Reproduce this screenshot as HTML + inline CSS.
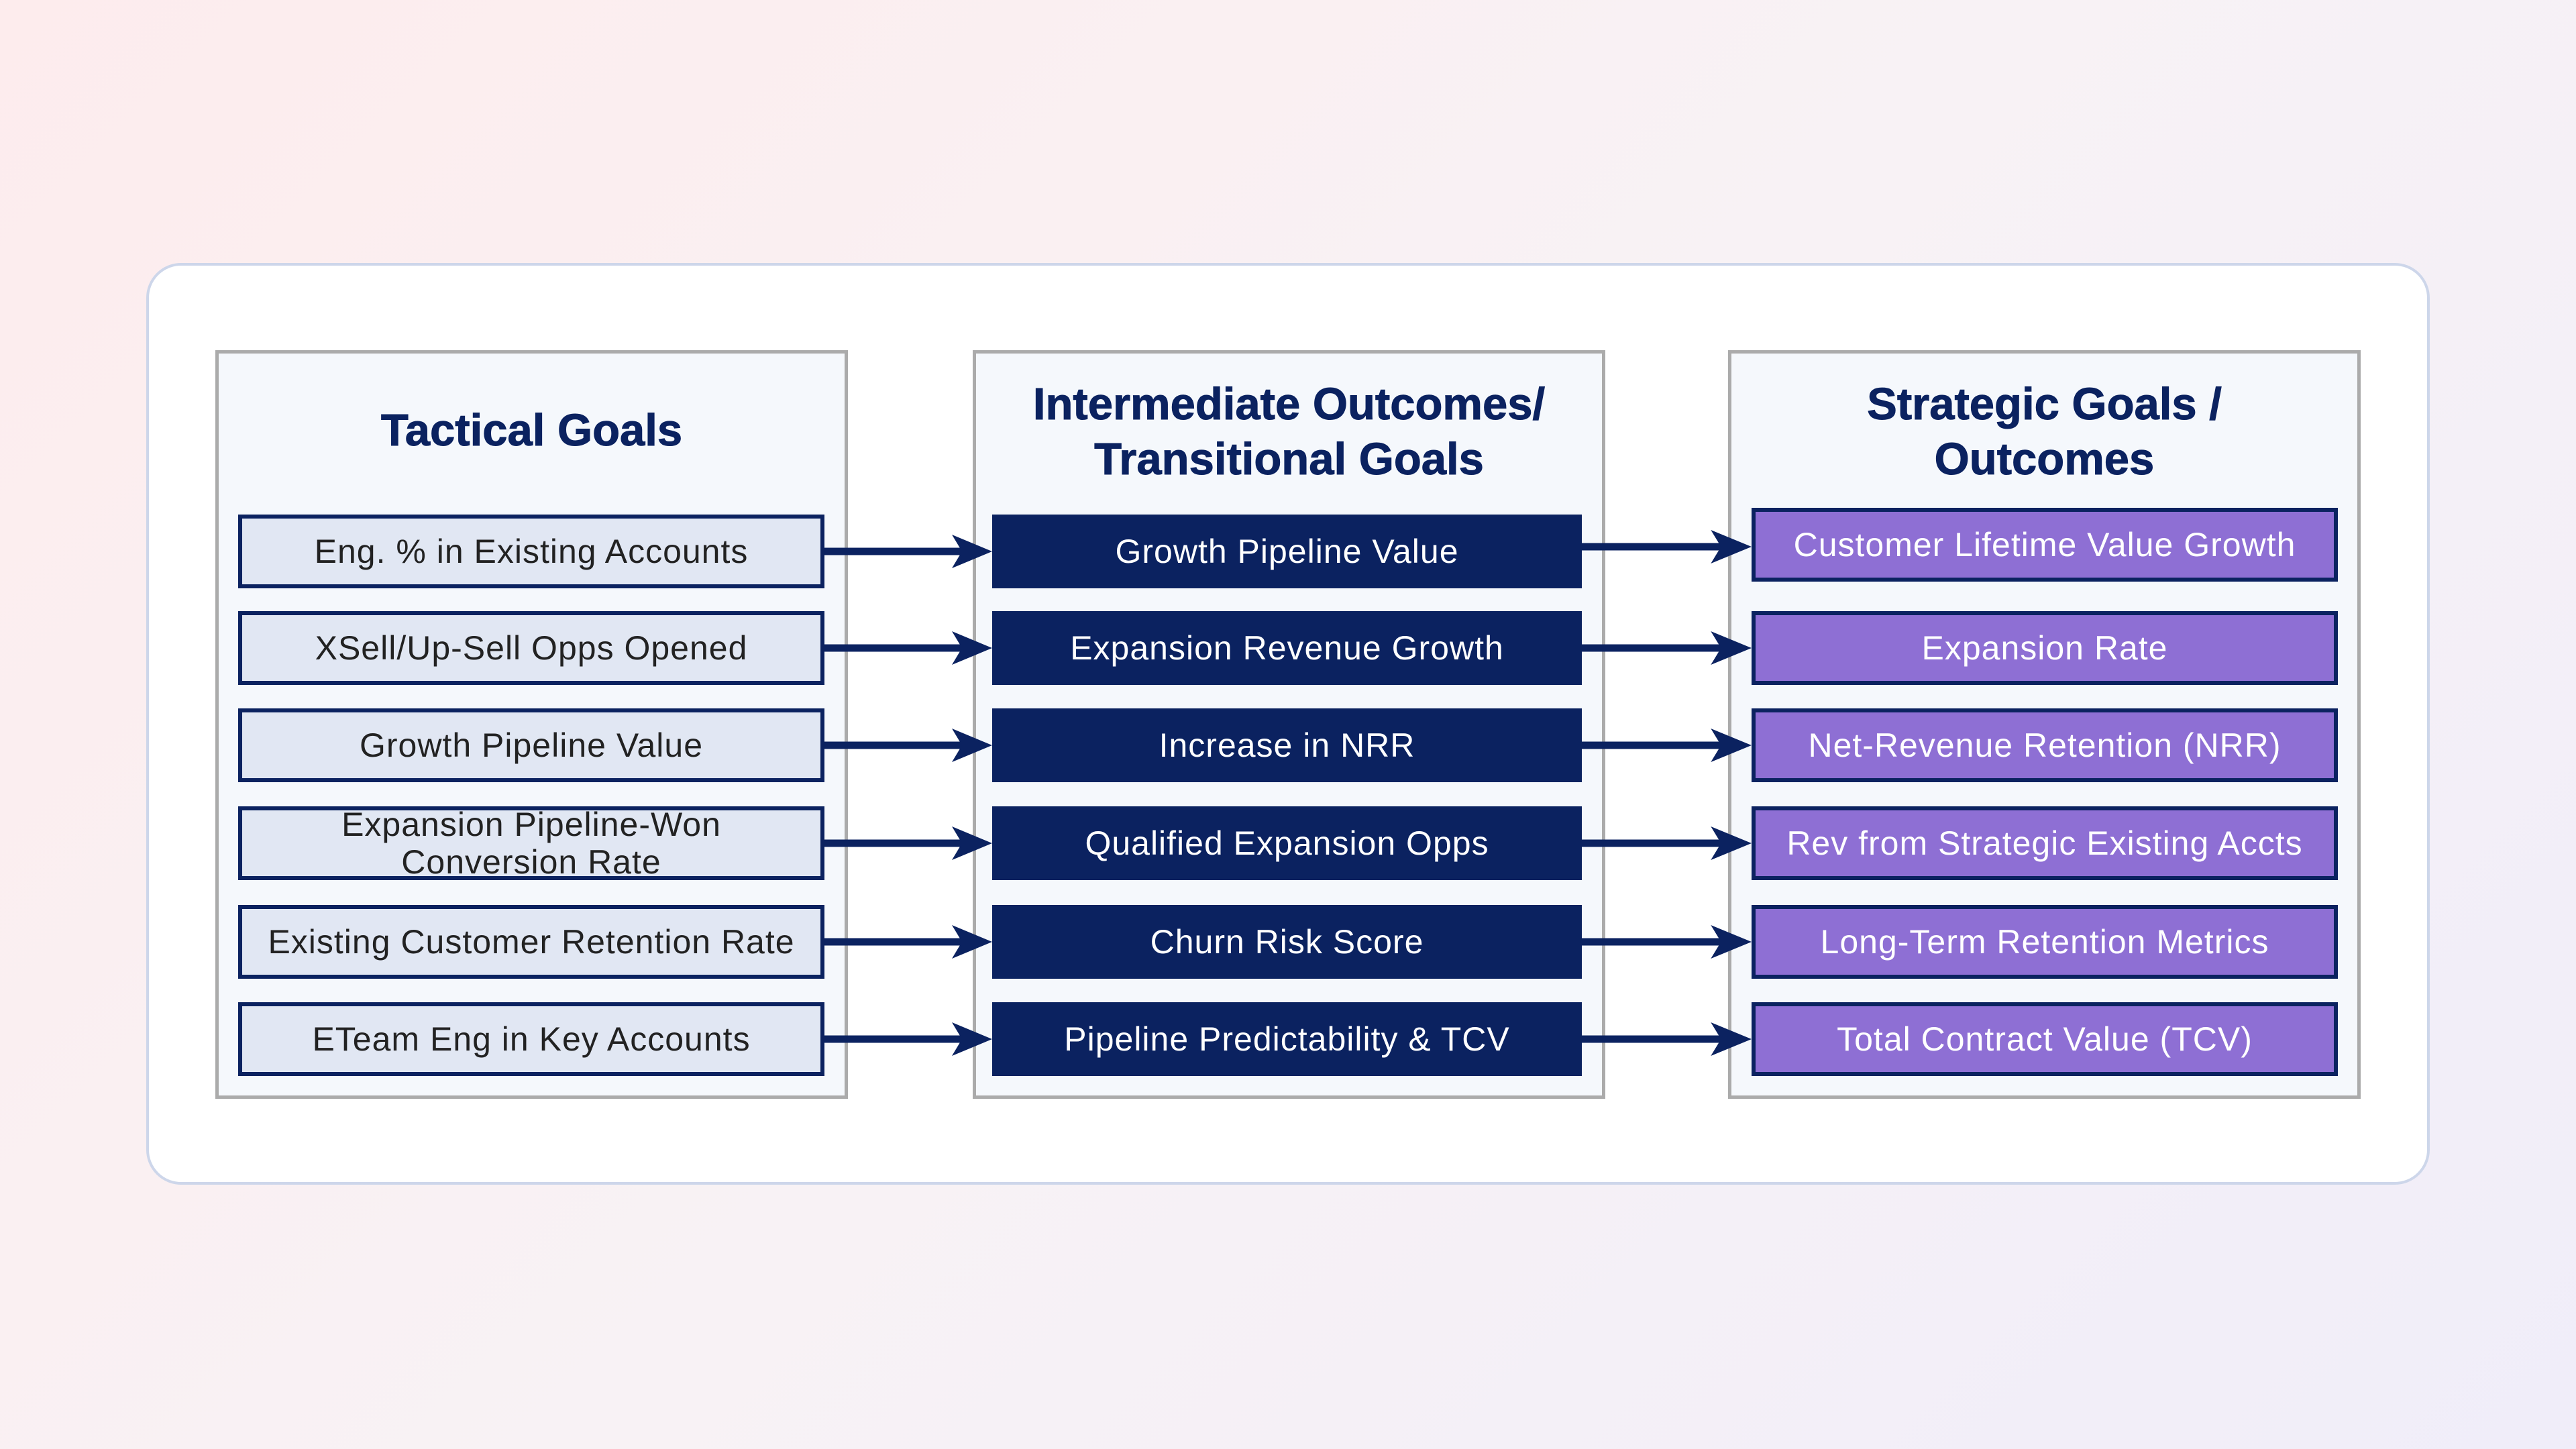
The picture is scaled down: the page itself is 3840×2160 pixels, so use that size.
<!DOCTYPE html>
<html><head><meta charset="utf-8"><style>
html,body{margin:0;padding:0}
body{width:3840px;height:2160px;position:relative;overflow:hidden;font-family:"Liberation Sans",sans-serif;
background:linear-gradient(135deg,#fdeced 0%,#f8f2f5 50%,#f0edf9 100%);}
.card{position:absolute;left:218px;top:392px;width:3404px;height:1374px;background:#fff;border:4px solid #cdd6ea;border-radius:52px;box-sizing:border-box}
.col{position:absolute;top:522px;height:1116px;width:943px;background:#f5f8fc;border:5px solid #ababab;box-sizing:border-box}
.title{position:absolute;width:943px;text-align:center;color:#0b2260;font-weight:bold;font-size:67px;line-height:82px;-webkit-text-stroke:1px #0b2260}
.box{position:absolute;height:110px;box-sizing:border-box;border:6px solid #0b2260;display:flex;align-items:center;justify-content:center;text-align:center;font-size:50px;line-height:56px;letter-spacing:1px}
.l{left:355px;width:874px;background:#e1e7f3;color:#222}
.m{left:1479px;width:879px;background:#0b2260;color:#fff}
.r{left:2611px;width:874px;background:#8e6fd4;color:#fff}
</style></head><body>
<div class="card"></div>
<div class="col" style="left:321px"></div>
<div class="col" style="left:1450px"></div>
<div class="col" style="left:2576px"></div>
<div class="title" style="left:321px;top:601px">Tactical Goals</div>
<div class="title" style="left:1450px;top:562px">Intermediate Outcomes/<br>Transitional Goals</div>
<div class="title" style="left:2576px;top:562px">Strategic Goals /<br>Outcomes</div>

<div class="box l" style="top:767px">Eng. % in Existing Accounts</div>
<div class="box l" style="top:911px">XSell/Up-Sell Opps Opened</div>
<div class="box l" style="top:1056px">Growth Pipeline Value</div>
<div class="box l" style="top:1202px;line-height:56px">Expansion Pipeline-Won<br>Conversion Rate</div>
<div class="box l" style="top:1349px">Existing Customer Retention Rate</div>
<div class="box l" style="top:1494px">ETeam Eng in Key Accounts</div>

<div class="box m" style="top:767px">Growth Pipeline Value</div>
<div class="box m" style="top:911px">Expansion Revenue Growth</div>
<div class="box m" style="top:1056px">Increase in NRR</div>
<div class="box m" style="top:1202px">Qualified Expansion Opps</div>
<div class="box m" style="top:1349px">Churn Risk Score</div>
<div class="box m" style="top:1494px">Pipeline Predictability &amp; TCV</div>

<div class="box r" style="top:757px">Customer Lifetime Value Growth</div>
<div class="box r" style="top:911px">Expansion Rate</div>
<div class="box r" style="top:1056px">Net-Revenue Retention (NRR)</div>
<div class="box r" style="top:1202px">Rev from Strategic Existing Accts</div>
<div class="box r" style="top:1349px">Long-Term Retention Metrics</div>
<div class="box r" style="top:1494px">Total Contract Value (TCV)</div>

<svg width="3840" height="2160" style="position:absolute;left:0;top:0" xmlns="http://www.w3.org/2000/svg">
<defs><g id="a"><path d="M0,0 L230,0" stroke="#0b2260" stroke-width="11"/><path d="M190,-25 L250,0 L190,25 L205,0 Z" fill="#0b2260"/></g></defs>
<g>
<use href="#a" transform="translate(1229,822)"/>
<use href="#a" transform="translate(1229,966)"/>
<use href="#a" transform="translate(1229,1111)"/>
<use href="#a" transform="translate(1229,1257)"/>
<use href="#a" transform="translate(1229,1404)"/>
<use href="#a" transform="translate(1229,1549)"/>
</g>
<g>
<use href="#a" transform="translate(2358,815) scale(1.012,1)"/>
<use href="#a" transform="translate(2358,966) scale(1.012,1)"/>
<use href="#a" transform="translate(2358,1111) scale(1.012,1)"/>
<use href="#a" transform="translate(2358,1257) scale(1.012,1)"/>
<use href="#a" transform="translate(2358,1404) scale(1.012,1)"/>
<use href="#a" transform="translate(2358,1549) scale(1.012,1)"/>
</g>
</svg>
</body></html>
